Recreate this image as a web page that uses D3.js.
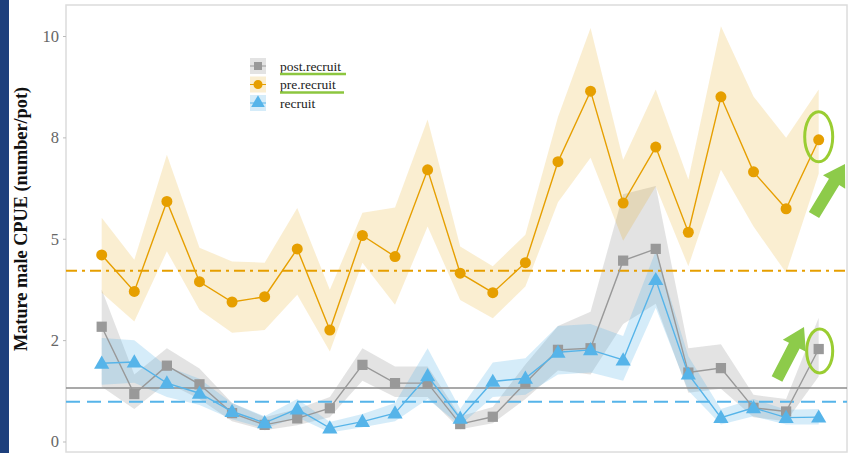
<!DOCTYPE html>
<html>
<head>
<meta charset="utf-8">
<script src="https://cdn.jsdelivr.net/npm/d3@7"></script>
<style>
  body { margin: 0; background: #fff; }
  svg { display: block; }
</style>
</head>
<body>
<div id="chart"></div>
<script>
const W = 850, H = 453;

// CPUE per survey
const preRecruit = [4.60, 3.70, 5.92, 3.94, 3.44, 3.57, 4.75, 2.75, 5.08, 4.56, 6.70, 4.15, 3.67, 4.41, 6.90, 8.64, 5.88, 7.26, 5.16, 8.50, 6.65, 5.74, 7.44];
const preUpper   = [5.52, 4.48, 7.07, 4.78, 4.44, 4.41, 5.76, 3.74, 5.64, 5.77, 7.94, 4.81, 4.32, 5.10, 8.00, 10.2, 6.95, 8.68, 6.46, 10.24, 8.51, 7.49, 8.68];
const preLower   = [3.67, 2.96, 4.69, 3.25, 2.68, 2.75, 3.62, 2.22, 4.41, 3.37, 5.30, 3.49, 3.04, 3.82, 5.90, 7.00, 4.95, 6.29, 4.32, 6.70, 5.30, 4.16, 6.60];

const postRecruit = [2.83, 1.17, 1.87, 1.41, 0.70, 0.41, 0.57, 0.82, 1.89, 1.44, 1.44, 0.43, 0.61, 1.44, 2.26, 2.30, 4.46, 4.75, 1.70, 1.81, 0.83, 0.74, 2.28];
const postUpper   = [3.75, 1.65, 2.30, 1.80, 0.95, 0.60, 0.80, 1.10, 2.30, 1.85, 1.85, 0.62, 0.85, 1.90, 2.85, 3.20, 6.10, 6.30, 2.30, 2.40, 1.15, 1.05, 3.05];
const postLower   = [1.35, 0.80, 1.45, 1.05, 0.50, 0.28, 0.40, 0.60, 1.50, 1.10, 1.10, 0.30, 0.45, 1.05, 1.75, 1.65, 2.90, 3.40, 1.20, 1.30, 0.60, 0.50, 1.60];

const recruit      = [1.93, 1.96, 1.44, 1.19, 0.74, 0.46, 0.80, 0.33, 0.49, 0.70, 1.62, 0.57, 1.48, 1.56, 2.20, 2.26, 2.01, 3.99, 1.66, 0.59, 0.83, 0.59, 0.60];
const recruitUpper = [2.55, 2.50, 1.85, 1.55, 0.95, 0.62, 1.05, 0.48, 0.68, 0.95, 2.30, 0.80, 1.95, 2.05, 2.85, 2.90, 2.60, 4.70, 2.10, 0.80, 1.05, 0.78, 0.80];
const recruitLower = [1.40, 1.45, 1.10, 0.90, 0.55, 0.32, 0.60, 0.22, 0.35, 0.50, 1.05, 0.40, 1.10, 1.15, 1.65, 1.70, 1.50, 3.30, 1.25, 0.42, 0.62, 0.42, 0.42];

// long-term means (horizontal reference lines)
const meanPre = 4.21, meanPost = 1.32, meanRecruit = 0.98;

const yTicks = [0, 2.5, 5, 7.5, 10];
const yTickLabels = ["0", "2", "5", "8", "10"];

const series = [
  { name: "post.recruit", values: postRecruit, upper: postUpper, lower: postLower, color: "#999999", band: "rgba(153,153,153,0.28)", shape: d3.symbolSquare },
  { name: "pre.recruit", values: preRecruit, upper: preUpper, lower: preLower, color: "#E69F00", band: "rgba(230,159,0,0.18)", shape: d3.symbolCircle },
  { name: "recruit", values: recruit, upper: recruitUpper, lower: recruitLower, color: "#56B4E9", band: "rgba(86,180,233,0.25)", shape: d3.symbolTriangle }
];

const svg = d3.select("#chart").append("svg").attr("width", W).attr("height", H);

// slide background strip on the left
svg.append("rect").attr("x", 0).attr("y", 0).attr("width", 9).attr("height", H).attr("fill", "#1d3f7c");

const panel = { left: 66, top: 5, right: 847, bottom: 452 };

const x = d3.scaleLinear().domain([0, preRecruit.length - 1]).range([101.7, 818.7]);
const y = d3.scaleLinear().domain([0, 10]).range([441.5, 36]);

// panel border
svg.append("rect")
  .attr("x", panel.left).attr("y", panel.top)
  .attr("width", panel.right - panel.left).attr("height", panel.bottom - panel.top)
  .attr("fill", "none").attr("stroke", "#dcdcdc").attr("stroke-width", 1.5);

// y axis
const yAxis = svg.append("g")
  .attr("transform", `translate(${panel.left},0)`)
  .call(d3.axisLeft(y).tickValues(yTicks).tickFormat((d, i) => yTickLabels[i]).tickSize(3).tickPadding(4));
yAxis.select(".domain").remove();
yAxis.selectAll(".tick line").attr("stroke", "#bbbbbb");
yAxis.selectAll("text")
  .attr("font-family", "Liberation Serif, serif")
  .attr("font-size", "16.5px")
  .attr("fill", "#666666");

svg.append("text")
  .attr("transform", "translate(27,219) rotate(-90)")
  .attr("text-anchor", "middle")
  .attr("font-family", "Liberation Serif, serif")
  .attr("font-weight", "bold")
  .attr("font-size", "18.3px")
  .attr("fill", "#111")
  .text("Mature male CPUE (number/pot)");

const plot = svg.append("g");

// ribbons
const area = d3.area()
  .x((d, i) => x(i))
  .y0(d => y(d[0]))
  .y1(d => y(d[1]));

series.forEach(s => {
  plot.append("path")
    .datum(s.lower.map((lo, i) => [lo, s.upper[i]]))
    .attr("d", area)
    .attr("fill", s.band);
});

// mean lines
plot.append("line")
  .attr("x1", panel.left).attr("x2", panel.right)
  .attr("y1", y(meanPre)).attr("y2", y(meanPre))
  .attr("stroke", "#E69F00").attr("stroke-width", 2)
  .attr("stroke-dasharray", "11,5,3,5");
plot.append("line")
  .attr("x1", panel.left).attr("x2", panel.right)
  .attr("y1", y(meanPost)).attr("y2", y(meanPost))
  .attr("stroke", "#8c8c8c").attr("stroke-width", 1.6);
plot.append("line")
  .attr("x1", panel.left).attr("x2", panel.right)
  .attr("y1", y(meanRecruit)).attr("y2", y(meanRecruit))
  .attr("stroke", "#56B4E9").attr("stroke-width", 2)
  .attr("stroke-dasharray", "14,7");

// lines + markers
const line = d3.line().x((d, i) => x(i)).y(d => y(d));

series.forEach(s => {
  plot.append("path")
    .datum(s.values)
    .attr("d", line)
    .attr("fill", "none")
    .attr("stroke", s.color)
    .attr("stroke-width", 1.4);

  const size = s.shape === d3.symbolTriangle ? 100 : s.shape === d3.symbolSquare ? 105 : 95;
  plot.selectAll(null)
    .data(s.values)
    .join("path")
    .attr("transform", (d, i) => `translate(${x(i)},${y(d) + (s.shape === d3.symbolTriangle ? 1 : 0)})`)
    .attr("d", d3.symbol().type(s.shape).size(size))
    .attr("fill", s.color);
});

// legend
const legend = svg.append("g").attr("transform", "translate(258,66)");
series.forEach((s, i) => {
  const g = legend.append("g").attr("transform", `translate(0,${i * 18.5})`);
  g.append("rect").attr("x", -8).attr("y", -8).attr("width", 16).attr("height", 16).attr("fill", s.band);
  g.append("line").attr("x1", -8).attr("x2", 8).attr("stroke", s.color).attr("stroke-width", 1);
  const size = s.shape === d3.symbolTriangle ? 80 : 65;
  g.append("path").attr("d", d3.symbol().type(s.shape).size(size)).attr("fill", s.color);
  g.append("text")
    .attr("x", 22).attr("y", 4.5)
    .attr("font-family", "Liberation Serif, serif")
    .attr("font-size", "13.5px")
    .attr("fill", "#222")
    .text(s.name);
});

// slide annotations (green highlights)
const green = "#8CC63F";
legend.append("line").attr("x1", 22).attr("x2", 88).attr("y1", 8).attr("y2", 8).attr("stroke", green).attr("stroke-width", 2.5);
legend.append("line").attr("x1", 22).attr("x2", 86).attr("y1", 26.5).attr("y2", 26.5).attr("stroke", green).attr("stroke-width", 2.5);

const last = preRecruit.length - 1;
svg.append("ellipse")
  .attr("cx", x(last)).attr("cy", y(preRecruit[last]) - 3)
  .attr("rx", 14).attr("ry", 25)
  .attr("fill", "none").attr("stroke", "#9ACD32").attr("stroke-width", 3);
svg.append("ellipse")
  .attr("cx", x(last) + 1).attr("cy", y(postRecruit[last]) + 2)
  .attr("rx", 13).attr("ry", 22)
  .attr("fill", "none").attr("stroke", "#9ACD32").attr("stroke-width", 3);

function blockArrow(x0, y0, x1, y1, shaftW, headW, headL) {
  const dx = x1 - x0, dy = y1 - y0, len = Math.hypot(dx, dy);
  const ux = dx / len, uy = dy / len, px = -uy, py = ux;
  const bx = x1 - ux * headL, by = y1 - uy * headL;
  const pts = [
    [x0 + px * shaftW / 2, y0 + py * shaftW / 2],
    [bx + px * shaftW / 2, by + py * shaftW / 2],
    [bx + px * headW / 2, by + py * headW / 2],
    [x1, y1],
    [bx - px * headW / 2, by - py * headW / 2],
    [bx - px * shaftW / 2, by - py * shaftW / 2],
    [x0 - px * shaftW / 2, y0 - py * shaftW / 2]
  ];
  svg.append("path").attr("d", d3.line()(pts) + "Z").attr("fill", "#8DCB4A");
}
blockArrow(814, 215, 845, 164, 12, 26, 21);
blockArrow(777, 379, 804, 327, 12, 26, 21);
</script>
</body>
</html>
